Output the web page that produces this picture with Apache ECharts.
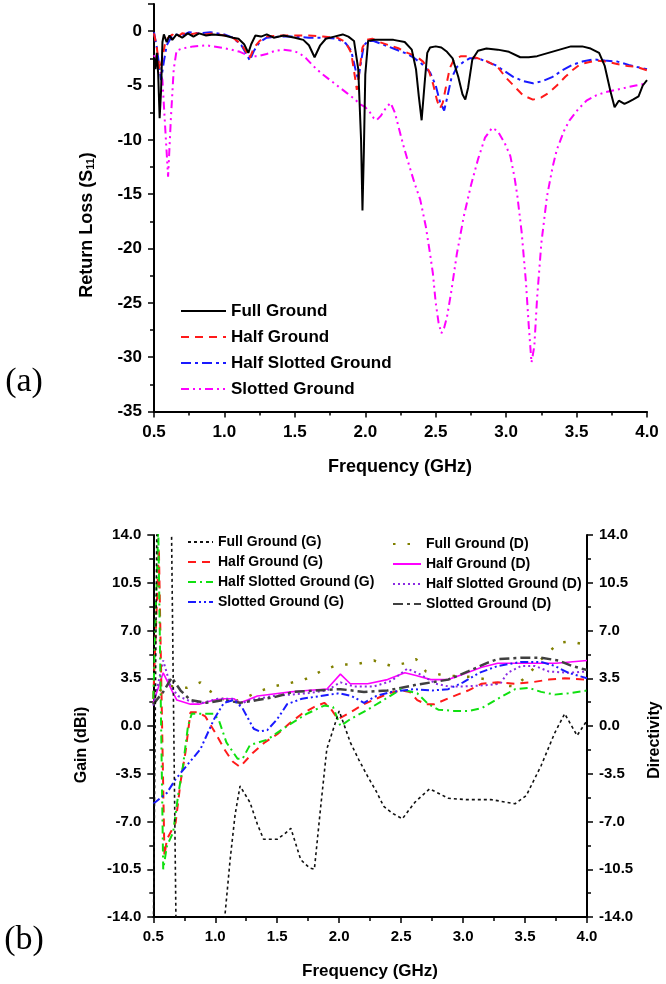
<!DOCTYPE html>
<html><head><meta charset="utf-8">
<script src="https://cdn.jsdelivr.net/npm/echarts@6/dist/echarts.min.js"></script>
<style>html,body{margin:0;padding:0;background:#fff}#c{width:666px;height:984px}</style>
</head><body><div id="c"></div>
<script>
// ---------- tick labels ----------
const freqTicks = [0.5, 1.0, 1.5, 2.0, 2.5, 3.0, 3.5, 4.0];
const s11Ticks = [0, -5, -10, -15, -20, -25, -30, -35];
const gainTicks = [-14, -10.5, -7, -3.5, 0, 3.5, 7, 10.5, 14];

// ---------- (a) return loss [GHz, dB] ----------
const fullGroundS11 = [[0.50,-2.4],[0.51,-3.5],[0.52,-2.0],[0.53,-4.0],[0.54,-8.0],[0.55,-5.5],[0.56,-1.0],[0.57,-0.3],[0.59,-1.0],[0.61,-0.4],[0.63,-0.8],[0.66,-0.3],[0.70,-0.6],[0.74,-0.2],[0.78,-0.5],[0.82,-0.2],[0.87,-0.4],[0.92,-0.3],[1.00,-0.4],[1.06,-0.6],[1.10,-0.7],[1.14,-1.2],[1.17,-2.0],[1.19,-1.2],[1.22,-0.4],[1.26,-0.5],[1.30,-0.3],[1.35,-0.6],[1.42,-0.4],[1.50,-0.6],[1.56,-0.8],[1.60,-1.3],[1.64,-2.4],[1.68,-1.3],[1.72,-0.7],[1.78,-0.5],[1.84,-0.3],[1.88,-0.5],[1.92,-0.9],[1.95,-3.5],[1.97,-10],[1.98,-16.5],[1.99,-11],[2.00,-4],[2.02,-0.9],[2.06,-0.8],[2.12,-0.8],[2.20,-0.8],[2.28,-1.0],[2.33,-1.7],[2.36,-3.5],[2.38,-6],[2.40,-8.2],[2.42,-5],[2.44,-2.0],[2.46,-1.5],[2.50,-1.4],[2.54,-1.5],[2.58,-1.9],[2.62,-2.5],[2.66,-4.2],[2.69,-5.8],[2.71,-6.3],[2.73,-5.2],[2.76,-2.6],[2.80,-1.8],[2.86,-1.6],[2.94,-1.7],[3.02,-1.9],[3.10,-2.4],[3.16,-2.4],[3.22,-2.3],[3.30,-2.0],[3.38,-1.7],[3.46,-1.4],[3.54,-1.4],[3.60,-1.6],[3.66,-2.0],[3.70,-3.2],[3.74,-5.5],[3.77,-7.0],[3.80,-6.4],[3.84,-6.7],[3.87,-6.5],[3.90,-6.3],[3.94,-6.0],[3.97,-5.0],[4.00,-4.5]];
const halfGroundS11 = [[0.50,-0.2],[0.52,-1.5],[0.54,-3.6],[0.56,-2.5],[0.58,-1.0],[0.60,-0.6],[0.63,-0.3],[0.66,-0.6],[0.70,-0.2],[0.75,-0.3],[0.80,-0.2],[0.86,-0.3],[0.92,-0.2],[1.00,-0.4],[1.06,-0.6],[1.12,-1.2],[1.16,-2.0],[1.18,-2.5],[1.21,-1.5],[1.25,-0.9],[1.30,-0.5],[1.40,-0.4],[1.50,-0.4],[1.60,-0.4],[1.70,-0.5],[1.80,-0.6],[1.86,-1.0],[1.90,-2.0],[1.93,-4.5],[1.94,-5.4],[1.96,-3.5],[1.98,-1.5],[2.01,-0.8],[2.05,-0.7],[2.10,-1.0],[2.17,-1.3],[2.24,-1.6],[2.30,-2.0],[2.36,-2.3],[2.41,-2.8],[2.45,-3.6],[2.48,-4.8],[2.51,-6.4],[2.53,-7.1],[2.55,-6.6],[2.57,-5.3],[2.60,-3.4],[2.63,-2.6],[2.68,-2.3],[2.74,-2.3],[2.80,-2.5],[2.87,-2.8],[2.94,-3.3],[3.00,-4.3],[3.06,-5.1],[3.12,-5.9],[3.19,-6.3],[3.25,-6.1],[3.30,-5.7],[3.36,-5.0],[3.42,-4.2],[3.47,-3.6],[3.52,-3.1],[3.57,-2.9],[3.64,-2.7],[3.71,-2.8],[3.78,-3.0],[3.86,-3.2],[3.93,-3.3],[4.00,-3.6]];
const halfSlottedS11 = [[0.50,-0.1],[0.52,-1.5],[0.54,-3.5],[0.55,-4.5],[0.57,-2.8],[0.59,-1.3],[0.62,-0.6],[0.65,-0.3],[0.70,-0.4],[0.75,-0.1],[0.82,-0.2],[0.90,-0.1],[1.00,-0.3],[1.06,-0.6],[1.12,-1.3],[1.16,-2.2],[1.18,-2.7],[1.21,-1.8],[1.25,-1.0],[1.30,-0.6],[1.40,-0.5],[1.50,-0.5],[1.60,-0.6],[1.70,-0.6],[1.80,-0.7],[1.86,-1.1],[1.90,-1.8],[1.93,-3.5],[1.95,-4.5],[1.97,-2.8],[1.99,-1.3],[2.02,-0.9],[2.06,-0.9],[2.12,-1.2],[2.20,-1.6],[2.28,-2.0],[2.34,-2.4],[2.40,-3.0],[2.46,-3.8],[2.50,-5.0],[2.53,-6.5],[2.56,-7.3],[2.58,-6.2],[2.61,-4.4],[2.65,-3.3],[2.69,-2.9],[2.74,-2.5],[2.80,-2.5],[2.86,-2.8],[2.92,-3.1],[2.98,-3.6],[3.05,-4.2],[3.12,-4.6],[3.19,-4.8],[3.26,-4.6],[3.33,-4.2],[3.40,-3.6],[3.47,-3.1],[3.54,-2.8],[3.62,-2.6],[3.70,-2.7],[3.79,-2.8],[3.87,-3.1],[3.93,-3.3],[4.00,-3.5]];
const slottedS11 = [[0.50,-2.2],[0.52,-2.8],[0.54,-3.5],[0.56,-4.5],[0.58,-9.0],[0.60,-13.4],[0.62,-8.0],[0.64,-3.5],[0.66,-1.8],[0.70,-1.6],[0.78,-1.4],[0.87,-1.3],[0.97,-1.5],[1.05,-1.7],[1.11,-1.9],[1.18,-2.3],[1.24,-2.3],[1.30,-2.1],[1.36,-1.8],[1.42,-1.7],[1.48,-1.8],[1.53,-2.0],[1.58,-2.5],[1.63,-3.2],[1.69,-3.9],[1.75,-4.5],[1.81,-5.1],[1.87,-5.7],[1.92,-6.2],[1.96,-6.7],[2.00,-7.0],[2.03,-7.4],[2.06,-8.0],[2.08,-8.2],[2.11,-7.8],[2.15,-7.0],[2.18,-6.6],[2.21,-7.5],[2.24,-9.0],[2.27,-10.5],[2.31,-12.3],[2.35,-14.0],[2.39,-15.5],[2.43,-18.0],[2.46,-20.5],[2.48,-22.3],[2.50,-25.0],[2.52,-26.8],[2.54,-27.8],[2.56,-27.3],[2.58,-26.3],[2.61,-24.0],[2.65,-20.5],[2.70,-17.0],[2.75,-14.2],[2.80,-11.8],[2.85,-9.8],[2.90,-8.9],[2.94,-9.2],[2.99,-10.3],[3.03,-11.5],[3.06,-13.5],[3.08,-15.2],[3.11,-18.5],[3.14,-23.0],[3.16,-27.0],[3.18,-30.5],[3.20,-29.0],[3.22,-24.5],[3.25,-19.5],[3.29,-15.2],[3.33,-12.5],[3.36,-10.9],[3.41,-9.2],[3.45,-8.2],[3.51,-7.2],[3.57,-6.4],[3.64,-5.9],[3.71,-5.6],[3.78,-5.4],[3.85,-5.2],[3.92,-5.0],[4.00,-4.8]];

// ---------- (b) gain / directivity [GHz, dBi] ----------
const fullGroundG = [[0.50,-16],[0.53,16],[0.645,16],[0.685,-16],[1.07,-16],[1.08,-13.7],[1.12,-9.8],[1.16,-6.5],[1.20,-4.4],[1.28,-5.6],[1.34,-7.2],[1.39,-8.3],[1.50,-8.3],[1.56,-7.9],[1.61,-7.5],[1.69,-9.8],[1.76,-10.4],[1.80,-10.5],[1.85,-6.0],[1.90,-1.7],[2.00,1.1],[2.09,-1.2],[2.16,-2.5],[2.23,-3.7],[2.30,-4.8],[2.36,-5.9],[2.43,-6.4],[2.51,-6.8],[2.61,-5.6],[2.73,-4.6],[2.88,-5.3],[3.03,-5.4],[3.23,-5.4],[3.42,-5.7],[3.51,-5.1],[3.63,-2.9],[3.74,-0.5],[3.82,0.9],[3.92,-0.7],[4.00,0.4]];
const halfGroundG = [[0.50,2.0],[0.545,13.0],[0.59,-9.5],[0.61,-8.3],[0.68,-7.1],[0.72,-4.1],[0.76,-1.9],[0.80,1.0],[0.86,1.0],[0.92,0.7],[1.00,-0.5],[1.08,-1.8],[1.14,-2.6],[1.20,-3.0],[1.30,-2.0],[1.40,-1.2],[1.50,-0.6],[1.60,0.2],[1.70,0.9],[1.80,1.4],[1.88,1.7],[1.93,1.3],[1.99,0.5],[2.09,1.0],[2.20,1.6],[2.30,2.0],[2.40,2.4],[2.50,2.6],[2.57,2.5],[2.63,1.9],[2.70,1.6],[2.77,1.6],[2.90,2.1],[3.04,2.6],[3.15,3.1],[3.28,3.2],[3.42,3.1],[3.55,3.2],[3.69,3.4],[3.82,3.5],[4.00,3.4]];
const halfSlottedG = [[0.50,2.0],[0.54,14.5],[0.58,-10.5],[0.61,-8.8],[0.66,-7.8],[0.70,-5.1],[0.74,-2.9],[0.78,0],[0.81,0.9],[0.90,0.9],[0.99,0.9],[1.03,0.4],[1.09,-1.2],[1.18,-2.4],[1.22,-2.4],[1.28,-1.4],[1.42,-1.0],[1.58,0],[1.74,0.9],[1.88,1.5],[1.95,1.4],[2.01,0],[2.09,0.5],[2.23,1.2],[2.34,1.8],[2.50,2.7],[2.63,2.4],[2.72,1.6],[2.80,1.2],[2.93,1.1],[3.04,1.1],[3.15,1.3],[3.28,2.0],[3.42,2.7],[3.53,2.8],[3.63,2.5],[3.74,2.3],[3.85,2.4],[4.00,2.6]];
const slottedG = [[0.50,-5.7],[0.61,-4.9],[0.68,-3.9],[0.77,-2.9],[0.88,-1.7],[0.99,0.5],[1.07,1.7],[1.15,1.9],[1.22,1.3],[1.31,-0.2],[1.36,-0.4],[1.42,-0.3],[1.50,0.5],[1.58,1.6],[1.70,2.0],[1.85,2.2],[2.00,2.4],[2.10,2.2],[2.20,1.7],[2.30,2.2],[2.42,2.5],[2.61,2.7],[2.75,2.6],[2.88,2.7],[3.00,3.2],[3.13,3.9],[3.28,4.4],[3.47,4.7],[3.63,4.7],[3.74,4.4],[3.85,3.9],[4.00,3.5]];
const fullGroundD = [[0.50,1.6],[0.58,3.0],[0.66,2.9],[0.77,2.8],[0.88,3.2],[0.95,2.6],[1.05,2.0],[1.15,1.8],[1.23,2.0],[1.34,2.5],[1.47,2.9],[1.58,3.1],[1.72,3.4],[1.85,4.0],[1.99,4.5],[2.12,4.5],[2.28,4.8],[2.42,4.4],[2.53,4.6],[2.62,4.9],[2.70,4.0],[2.85,3.7],[3.07,3.6],[3.20,3.4],[3.30,3.0],[3.42,2.9],[3.53,3.8],[3.62,4.8],[3.69,5.4],[3.77,6.1],[3.86,6.2],[3.97,6.0],[4.00,6.0]];
const halfGroundD = [[0.50,1.7],[0.58,3.9],[0.65,2.6],[0.69,1.9],[0.80,1.6],[0.87,1.6],[0.99,1.9],[1.07,2.0],[1.15,2.0],[1.20,1.7],[1.26,1.9],[1.34,2.2],[1.47,2.35],[1.61,2.5],[1.74,2.6],[1.90,2.7],[2.01,3.8],[2.09,3.1],[2.23,3.1],[2.39,3.4],[2.53,3.9],[2.62,3.7],[2.74,3.4],[2.88,3.4],[3.00,3.8],[3.15,4.3],[3.28,4.6],[3.50,4.6],[3.75,4.6],[4.00,4.8]];
const halfSlottedD = [[0.50,1.5],[0.58,4.8],[0.64,2.9],[0.70,2.2],[0.80,1.8],[0.90,1.7],[1.02,2.0],[1.15,2.0],[1.20,1.6],[1.28,1.9],[1.47,2.2],[1.74,2.4],[1.90,2.6],[2.01,3.2],[2.12,2.9],[2.28,2.9],[2.42,3.3],[2.55,4.2],[2.65,3.8],[2.78,3.1],[2.88,2.9],[3.00,2.9],[3.20,3.0],[3.30,3.1],[3.36,3.9],[3.47,4.4],[3.58,4.4],[3.69,4.0],[3.85,3.9],[4.00,4.0]];
const slottedD = [[0.50,1.6],[0.58,2.5],[0.65,3.55],[0.72,2.6],[0.80,1.9],[0.93,1.7],[1.07,1.9],[1.20,1.7],[1.34,1.9],[1.47,2.1],[1.63,2.5],[1.80,2.6],[2.01,2.7],[2.20,2.5],[2.39,2.6],[2.61,3.0],[2.88,3.4],[3.04,4.0],[3.20,4.65],[3.28,4.9],[3.47,5.0],[3.63,5.0],[3.77,4.8],[3.88,4.4],[4.00,4.1]];

const FONT = '"Liberation Sans", Arial, sans-serif';
const chart = echarts.init(document.getElementById('c'), null, {renderer: 'canvas'});

function line(name, data, color, width, dash, xi, yi, z) {
  return {type: 'line', name, data, xAxisIndex: xi, yAxisIndex: yi, symbol: 'none',
    showSymbol: false, smooth: false, clip: true, z: z || 2, animation: false,
    lineStyle: {color, width, type: dash}, itemStyle: {color}};
}
function xAx(gi, fs) {
  return {type: 'value', gridIndex: gi, min: 0.5, max: 4.0, interval: 0.5,
    axisLine: {show: true, onZero: false, lineStyle: {color: '#000', width: 2}},
    axisTick: {show: true, length: 6, lineStyle: {color: '#000', width: 1.5}},
    minorTick: {show: true, splitNumber: 2, length: 4, lineStyle: {color: '#000', width: 1.5}},
    splitLine: {show: false},
    axisLabel: {margin: 12, color: '#000', fontSize: fs, fontWeight: 'bold', fontFamily: FONT,
      formatter: v => { const t = freqTicks.find(f => Math.abs(f - v) < 1e-6); return t === undefined ? '' : t.toFixed(1); }}};
}
function yAx(gi, pos, min, max, interval, fs, split, fmt) {
  return {type: 'value', gridIndex: gi, position: pos, min, max, interval,
    axisLine: {show: true, onZero: false, lineStyle: {color: '#000', width: 2}},
    axisTick: {show: true, length: 6, lineStyle: {color: '#000', width: 1.5}},
    minorTick: {show: true, splitNumber: split, length: 4, lineStyle: {color: '#000', width: 1.5}},
    splitLine: {show: false},
    axisLabel: {margin: 12, color: '#000', fontSize: fs, fontWeight: 'bold', fontFamily: FONT, formatter: fmt}};
}
const fmtA = v => { const t = s11Ticks.find(f => Math.abs(f - v) < 1e-6); return t === undefined ? '' : String(t); };
const fmtB = v => { const t = gainTicks.find(f => Math.abs(f - v) < 1e-6); return t === undefined ? '' : t.toFixed(1); };

const legText = (fs, lh) => ({color: '#000', fontSize: fs, fontWeight: 'bold', fontFamily: FONT, lineHeight: lh});
const legBase = {orient: 'vertical', padding: 0, itemGap: 0, selectedMode: false,
  itemStyle: {opacity: 0, borderWidth: 0}};

chart.setOption({
  backgroundColor: '#fff',
  animation: false,
  grid: [
    {left: 154, right: 19, top: 4, bottom: 572.5, containLabel: false},
    {left: 153.3, right: 79, top: 535, bottom: 67, containLabel: false}
  ],
  xAxis: [xAx(0, 17), xAx(1, 15)],
  yAxis: [
    yAx(0, 'left', -35, 2.5, 5, 17, 2, fmtA),
    yAx(1, 'left', -14, 14, 3.5, 15, 2, fmtB),
    yAx(1, 'right', -14, 14, 3.5, 15, 2, fmtB)
  ],
  legend: [
    Object.assign({}, legBase, {left: 180, top: 298, itemWidth: 45, itemHeight: 12, textStyle: legText(17, 26),
      data: ['Full Ground', 'Half Ground', 'Half Slotted Ground', 'Slotted Ground']}),
    Object.assign({}, legBase, {left: 187, top: 532, itemWidth: 25, itemHeight: 10, textStyle: legText(14, 20),
      data: ['Full Ground (G)', 'Half Ground (G)', 'Half Slotted Ground (G)', 'Slotted Ground (G)']}),
    Object.assign({}, legBase, {left: 392, top: 534, itemWidth: 28, itemHeight: 10, textStyle: legText(14, 20),
      data: ['Full Ground (D)', 'Half Ground (D)', 'Half Slotted Ground (D)', 'Slotted Ground (D)']})
  ],
  graphic: [
    {type: 'text', x: 400, y: 467, style: {text: 'Frequency (GHz)', fill: '#000', font: 'bold 18px ' + FONT, align: 'center', verticalAlign: 'middle'}},
    {type: 'text', x: 370, y: 971, style: {text: 'Frequency (GHz)', fill: '#000', font: 'bold 17px ' + FONT, align: 'center', verticalAlign: 'middle'}},
    {type: 'text', x: 87, y: 225, rotation: Math.PI / 2, style: {text: 'Return Loss (S{s|11})', fill: '#000', font: 'bold 18px ' + FONT, align: 'center', verticalAlign: 'middle',
      rich: {s: {fontSize: 11, fontWeight: 'bold', fontFamily: FONT, fill: '#000', padding: [7, 0, 0, 0]}}}},
    {type: 'text', x: 82, y: 745, rotation: Math.PI / 2, style: {text: 'Gain (dBi)', fill: '#000', font: 'bold 16px ' + FONT, align: 'center', verticalAlign: 'middle'}},
    {type: 'text', x: 655, y: 740, rotation: Math.PI / 2, style: {text: 'Directivity', fill: '#000', font: 'bold 16px ' + FONT, align: 'center', verticalAlign: 'middle'}},
    {type: 'text', x: 24, y: 382, style: {text: '(a)', fill: '#000', font: '34px "Liberation Serif", "Times New Roman", serif', align: 'center', verticalAlign: 'middle'}},
    {type: 'text', x: 24, y: 940, style: {text: '(b)', fill: '#000', font: '34px "Liberation Serif", "Times New Roman", serif', align: 'center', verticalAlign: 'middle'}}
  ],
  series: [
    line('Slotted Ground', slottedS11, '#ff00ff', 2, [8, 4, 2, 4, 2, 4], 0, 0, 2),
    line('Half Slotted Ground', halfSlottedS11, '#1a1aff', 2, [10, 4, 3, 4], 0, 0, 3),
    line('Half Ground', halfGroundS11, '#ff1a1a', 2, [8, 6], 0, 0, 4),
    line('Full Ground', fullGroundS11, '#000000', 2, 'solid', 0, 0, 5),

    line('Full Ground (G)', fullGroundG, '#111111', 1.6, [3, 3], 1, 1, 5),
    line('Half Ground (G)', halfGroundG, '#ff1a1a', 2, [8, 6], 1, 1, 4),
    line('Half Slotted Ground (G)', halfSlottedG, '#10e010', 2, [8, 4, 2, 4], 1, 1, 4),
    line('Slotted Ground (G)', slottedG, '#1a1aff', 2, [8, 3, 2, 3, 2, 3], 1, 1, 4),
    line('Full Ground (D)', fullGroundD, '#808000', 2.5, [2.5, 12], 1, 2, 3),
    line('Half Ground (D)', halfGroundD, '#ff00ff', 1.6, 'solid', 1, 2, 3),
    line('Half Slotted Ground (D)', halfSlottedD, '#8a2be2', 2, [2, 3], 1, 2, 3),
    line('Slotted Ground (D)', slottedD, '#404040', 2.5, [10, 4, 3, 4], 1, 2, 3)
  ]
});
</script></body></html>
